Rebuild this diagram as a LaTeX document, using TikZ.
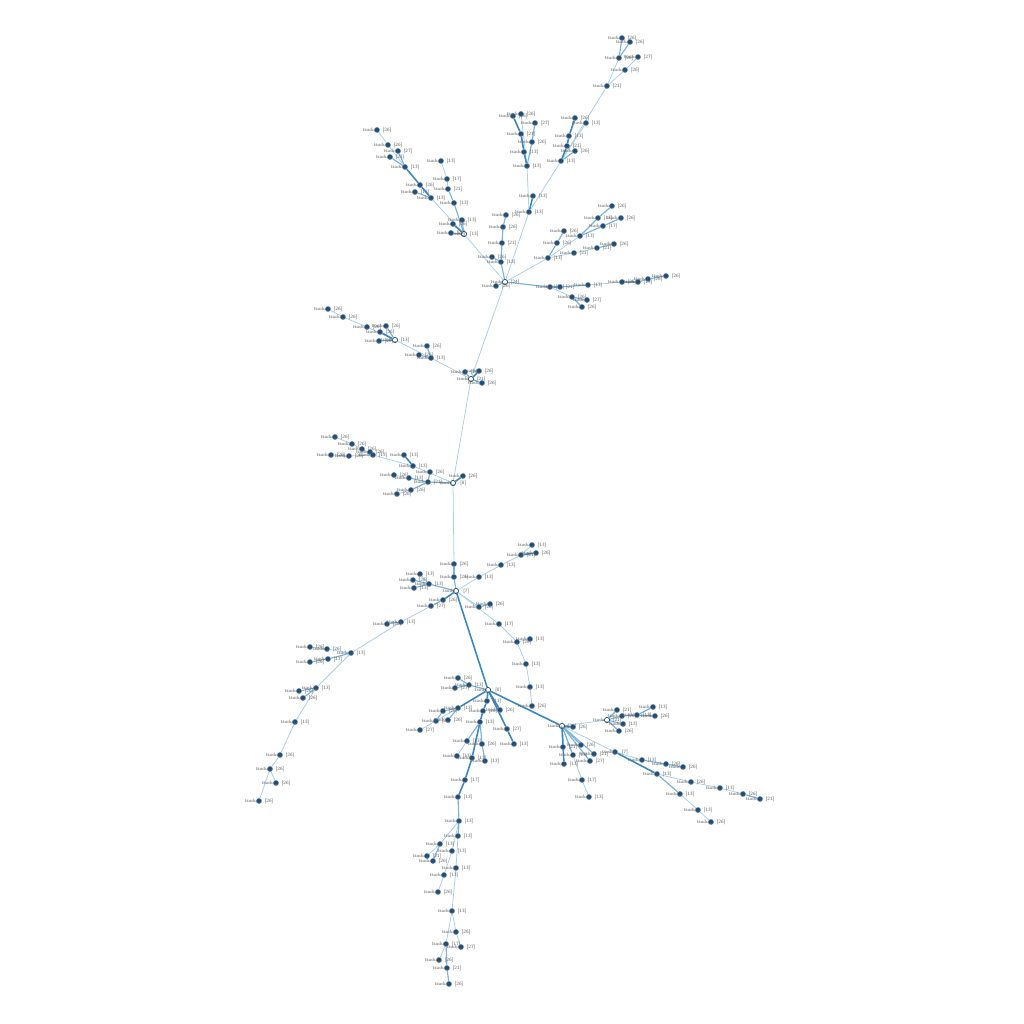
\documentclass[tikz,border=0pt]{standalone}
\usepackage{tikz}
\pgfdeclarelayer{bg}
\pgfsetlayers{bg,main}

\definecolor{nodeblue}{HTML}{1F4E79}
\definecolor{edgelight}{HTML}{A9CFE6}
\definecolor{edgemid}{HTML}{7AB4DA}
\definecolor{edgedark}{HTML}{3A88BE}

\tikzset{
	tip/.style={circle, fill=nodeblue, draw=nodeblue!60, line width=0.1pt, inner sep=0pt, minimum size=1.5pt},
	hubnode/.style={circle, fill=white, draw=nodeblue, line width=0.2pt, inner sep=0pt, minimum size=1.5pt},
	lbl/.style={font=\sffamily\fontsize{1.4}{1.6}\selectfont, text=black!60, inner sep=0pt},
	e1/.style={draw=edgelight, line width=0.22pt},
	e2/.style={draw=edgemid, line width=0.33pt},
	e3/.style={draw=edgedark, line width=0.45pt},
}

\begin{document}
\begin{tikzpicture}[x=0.01cm, y=-0.01cm]

	\def\tsu#1#2#3#4{
		\node[tip, label={[lbl]center:tsudu\_\hspace{1.3pt}[#4]}] (#1) at (#2,#3) {};
	}
	\def\hub#1#2#3#4{
		\node[hubnode, label={[lbl]center:tsudu\_\hspace{1.4pt}[#4]}] (#1) at (#2,#3) {};
	}

	\useasboundingbox (0,0) rectangle (1024,1024);

	% top right branch
	\tsu{t1}{622}{38}{26}  \tsu{t2}{630}{42}{26}  \tsu{t3}{619}{58}{26}
	\tsu{t4}{638}{57}{27}  \tsu{t5}{625}{70}{26}  \tsu{t6}{607}{86}{21}
	\tsu{t7}{575}{118}{26} \tsu{t8}{586}{123}{13} \tsu{t9}{569}{136}{13}
	\tsu{t10}{567}{146}{21} \tsu{t11}{575}{151}{26} \tsu{t12}{561}{161}{13}

	% top middle branch
	\tsu{m1}{513}{116}{26} \tsu{m2}{521}{114}{26} \tsu{m3}{535}{123}{27}
	\tsu{m4}{521}{134}{21} \tsu{m5}{532}{142}{26} \tsu{m6}{524}{152}{13}
	\tsu{m7}{527}{166}{13} \tsu{m8}{533}{196}{13} \tsu{m9}{529}{212}{13}

	% upper hub
	\hub{h1}{505}{282}{24}
	\tsu{p1}{506}{215}{26} \tsu{p2}{503}{227}{26} \tsu{p3}{502}{243}{21}
	\tsu{p4}{492}{257}{26} \tsu{p5}{501}{262}{13} \tsu{p6}{496}{286}{26}

	\tsu{r1}{612}{206}{26} \tsu{r2}{598}{218}{13} \tsu{r3}{621}{218}{26}
	\tsu{r4}{603}{226}{17} \tsu{r5}{580}{236}{13} \tsu{r6}{564}{231}{26}
	\tsu{r7}{557}{243}{26} \tsu{r8}{548}{258}{13} \tsu{r9}{574}{253}{21}
	\tsu{r10}{597}{248}{21} \tsu{r11}{614}{244}{26}

	\tsu{s1}{550}{287}{21} \tsu{s2}{560}{287}{21} \tsu{s3}{588}{285}{13}
	\tsu{s4}{622}{282}{26} \tsu{s5}{638}{282}{13} \tsu{s6}{648}{279}{26}
	\tsu{s7}{666}{276}{26} \tsu{s8}{572}{297}{26} \tsu{s9}{587}{300}{27}
	\tsu{s10}{582}{307}{26}

	% upper left branch
	\hub{l0}{464}{234}{13}
	\tsu{l1}{377}{130}{26} \tsu{l2}{388}{145}{26} \tsu{l3}{398}{151}{27}
	\tsu{l4}{390}{157}{21} \tsu{l5}{405}{167}{13} \tsu{l6}{420}{185}{26}
	\tsu{l7}{415}{192}{13} \tsu{l8}{431}{198}{13} \tsu{l9}{441}{161}{13}
	\tsu{l10}{447}{179}{17} \tsu{l11}{448}{189}{21} \tsu{l12}{454}{203}{13}
	\tsu{l13}{462}{220}{13} \tsu{l14}{453}{224}{26} \tsu{l15}{451}{233}{26}

	% middle left branch
	\hub{k0}{471}{379}{21}
	\tsu{k1}{328}{309}{26} \tsu{k2}{343}{317}{26} \tsu{k3}{367}{327}{26}
	\tsu{k4}{386}{326}{26} \tsu{k5}{380}{332}{26} \hub{k6}{395}{340}{13}
	\tsu{k7}{379}{341}{26} \tsu{k8}{427}{346}{26} \tsu{k9}{419}{355}{26}
	\tsu{k10}{431}{358}{13} \tsu{k11}{465}{372}{26} \tsu{k12}{479}{371}{26}
	\tsu{k13}{482}{383}{26}

	\hub{j0}{453}{483}{8}
	\tsu{j1}{335}{437}{26} \tsu{j2}{352}{444}{26} \tsu{j3}{362}{449}{26}
	\tsu{j4}{370}{452}{26} \tsu{j5}{331}{455}{26} \tsu{j6}{349}{456}{26}
	\tsu{j7}{373}{455}{13} \tsu{j8}{404}{455}{13} \tsu{j9}{413}{466}{13}
	\tsu{j10}{430}{472}{26} \tsu{j11}{394}{475}{26} \tsu{j12}{409}{478}{13}
	\tsu{j13}{428}{482}{21} \tsu{j14}{411}{490}{26} \tsu{j15}{397}{494}{26}
	\tsu{j16}{463}{476}{26}

	% lower hub
	\hub{g0}{456}{591}{7}
	\tsu{g1}{532}{545}{13} \tsu{g2}{536}{553}{26} \tsu{g3}{521}{555}{21}
	\tsu{g4}{501}{565}{13} \tsu{g5}{479}{577}{13} \tsu{g6}{454}{564}{26}
	\tsu{g7}{454}{577}{26} \tsu{g8}{420}{574}{13} \tsu{g9}{413}{580}{26}
	\tsu{g10}{429}{584}{13} \tsu{g11}{414}{588}{13} \tsu{g12}{443}{600}{26}
	\tsu{g13}{431}{606}{27} \tsu{g14}{479}{607}{26} \tsu{g15}{490}{604}{26}
	\tsu{g16}{499}{624}{17} \tsu{g17}{517}{642}{26} \tsu{g18}{530}{639}{13}
	\tsu{g19}{526}{664}{13} \tsu{g20}{530}{687}{13} \tsu{g21}{532}{706}{26}

	\tsu{f1}{401}{622}{13} \tsu{f2}{387}{624}{26} \tsu{f3}{351}{653}{13}
	\tsu{f4}{310}{647}{26} \tsu{f5}{327}{649}{26} \tsu{f6}{310}{662}{26}
	\tsu{f7}{328}{659}{17} \tsu{f8}{316}{688}{13} \tsu{f9}{299}{691}{26}
	\tsu{f10}{303}{698}{26} \tsu{f11}{295}{722}{13} \tsu{f12}{280}{755}{26}
	\tsu{f13}{270}{769}{26} \tsu{f14}{276}{783}{26} \tsu{f15}{259}{801}{26}

	\hub{b0}{488}{690}{8}
	\tsu{b1}{458}{678}{26} \tsu{b2}{469}{685}{13} \tsu{b3}{455}{688}{27}
	\tsu{b4}{487}{701}{13} \tsu{b5}{483}{711}{26} \tsu{b6}{500}{710}{26}
	\tsu{b7}{458}{708}{13} \tsu{b8}{443}{711}{26} \tsu{b9}{436}{721}{26}
	\tsu{b10}{448}{720}{26} \tsu{b11}{420}{730}{27} \tsu{b12}{480}{722}{13}
	\tsu{b13}{467}{741}{13} \tsu{b14}{482}{744}{26} \tsu{b15}{507}{729}{27}
	\tsu{b16}{514}{744}{13} \tsu{b17}{457}{756}{13} \tsu{b18}{472}{758}{13}
	\tsu{b19}{485}{761}{13} \tsu{b20}{465}{780}{17} \tsu{b21}{458}{797}{13}

	\hub{c0}{562}{726}{26} \hub{c2}{607}{720}{21}
	\tsu{c1}{573}{727}{26} \tsu{c3}{617}{710}{21} \tsu{c4}{622}{716}{26}
	\tsu{c5}{637}{715}{13} \tsu{c6}{653}{707}{13} \tsu{c7}{655}{716}{26}
	\tsu{c8}{623}{724}{13} \tsu{c9}{619}{731}{26} \tsu{c10}{563}{747}{21}
	\tsu{c11}{581}{745}{26} \tsu{c12}{573}{755}{13} \tsu{c13}{594}{754}{21}
	\tsu{c14}{564}{764}{13} \tsu{c15}{590}{761}{27} \tsu{c16}{582}{780}{17}
	\tsu{c17}{589}{797}{13} \tsu{c18}{615}{752}{7} \tsu{c19}{642}{760}{13}
	\tsu{c20}{666}{764}{26} \tsu{c21}{683}{767}{26} \tsu{c22}{657}{774}{13}
	\tsu{c23}{691}{782}{26} \tsu{c24}{720}{788}{13} \tsu{c25}{743}{794}{26}
	\tsu{c26}{760}{799}{21} \tsu{c27}{680}{794}{13} \tsu{c28}{698}{810}{13}
	\tsu{c29}{711}{822}{26}

	% bottom chain
	\tsu{d1}{459}{821}{13} \tsu{d2}{458}{836}{13} \tsu{d3}{440}{844}{13}
	\tsu{d4}{452}{851}{13} \tsu{d5}{427}{856}{21} \tsu{d6}{433}{861}{26}
	\tsu{d7}{456}{868}{13} \tsu{d8}{444}{875}{13} \tsu{d9}{438}{892}{26}
	\tsu{d10}{452}{911}{13} \tsu{d11}{456}{932}{26} \tsu{d12}{446}{944}{17}
	\tsu{d13}{461}{947}{27} \tsu{d14}{439}{960}{26} \tsu{d15}{447}{968}{21}
	\tsu{d16}{449}{984}{26}

	\begin{pgfonlayer}{bg}
	% light edges
	\foreach \a/\b in {t6/t3, t6/t5, t5/t4, t12/t6, t12/t8, m2/m7, m7/m9, m9/t12,
		m9/h1, r5/r8, r8/h1, r8/r9, r9/r10, s1/s8, s3/s4,
		l1/l2, l2/l5, l8/l0, l9/l10, l10/l11, l0/h1, h1/k0,
		k1/k2, k2/k3, k3/k6, k6/k10, k10/k0, k0/j0,
		j1/j2, j2/j3, j3/j7, j5/j6, j6/j7, j7/j9, j9/j0, j11/j12, j15/j14,
		j0/g6, g1/g3, g3/g4, g4/g5, g5/g0, g8/g10, g0/g14, g0/g16, g16/g17,
		g17/g19, g19/g20, g20/g21, g18/g17, g13/f1, f1/f3, f4/f5, f5/f3, f3/f8,
		f8/f11, f11/f12, f12/f13, f13/f14, f13/f15,
		b11/b7, b13/b17, c0/c2, c0/c16, c16/c17, c0/c18, c18/c19,
		c22/c23, c23/c24, c24/c25, c27/c28, c28/c29,
		d1/d3, d3/d5, d1/d4, d4/d8, d8/d9, d2/d7, d7/d10, d10/d11, d11/d13,
		d10/d12, d12/d14}
		\draw[e1] (\a) -- (\b);
	% medium edges
	\foreach \a/\b in {t3/t1, t3/t2, t12/t11, m3/m5, m5/m7, p1/p2, p2/p3, p3/p5,
		p4/p5, p5/h1, p6/h1, r1/r2, r2/r5, r3/r4, r4/r5, r6/r7, r7/r8, r10/r11,
		h1/s1, s1/s2, s2/s3, s4/s5, s5/s6, s6/s7, s8/s9, s8/s10,
		l3/l5, l4/l5, l7/l8, l11/l12, l12/l0, l13/l0, l15/l0,
		k4/k6, k7/k6, k8/k10, k9/k10, k11/k0, k13/k0,
		j4/j7, j10/j13, j12/j13, j13/j0, j14/j13,
		g6/g7, g7/g0, g9/g10, g11/g10, g10/g0, g12/g13, g14/g15, f1/f2,
		f6/f7, f7/f3, f9/f8, f10/f8, b1/b2, b3/b2, b2/b0, b7/b8, b7/b10,
		b8/b9, b12/b13, b12/b14, b14/b19, c2/c3, c2/c4, c4/c5, c5/c6, c5/c7,
		c2/c8, c2/c9, c0/c10, c0/c11, c0/c12, c0/c13, c0/c15,
		c19/c20, c20/c21, c22/c27, c25/c26, b21/d1, d1/d2, d3/d6, d12/d15, d15/d16}
		\draw[e2] (\a) -- (\b);
	% thick edges
	\foreach \a/\b in {t12/t10, t10/t9, t9/t7, m1/m4, m4/m6, m6/m7, m8/m9,
		l5/l6, l6/l8, l14/l0, k5/k6, k12/k0, j8/j9, j16/j0,
		g2/g3, g0/g12, g0/b0, b0/b4, b4/b5, b5/b12, b0/b6, b0/b7,
		b0/b15, b15/b16, b12/b18, b18/b20, b20/b21, b0/c0, c0/c1, c0/c14,
		c18/c22}
		\draw[e3] (\a) -- (\b);
	\end{pgfonlayer}

\end{tikzpicture}
\end{document}
